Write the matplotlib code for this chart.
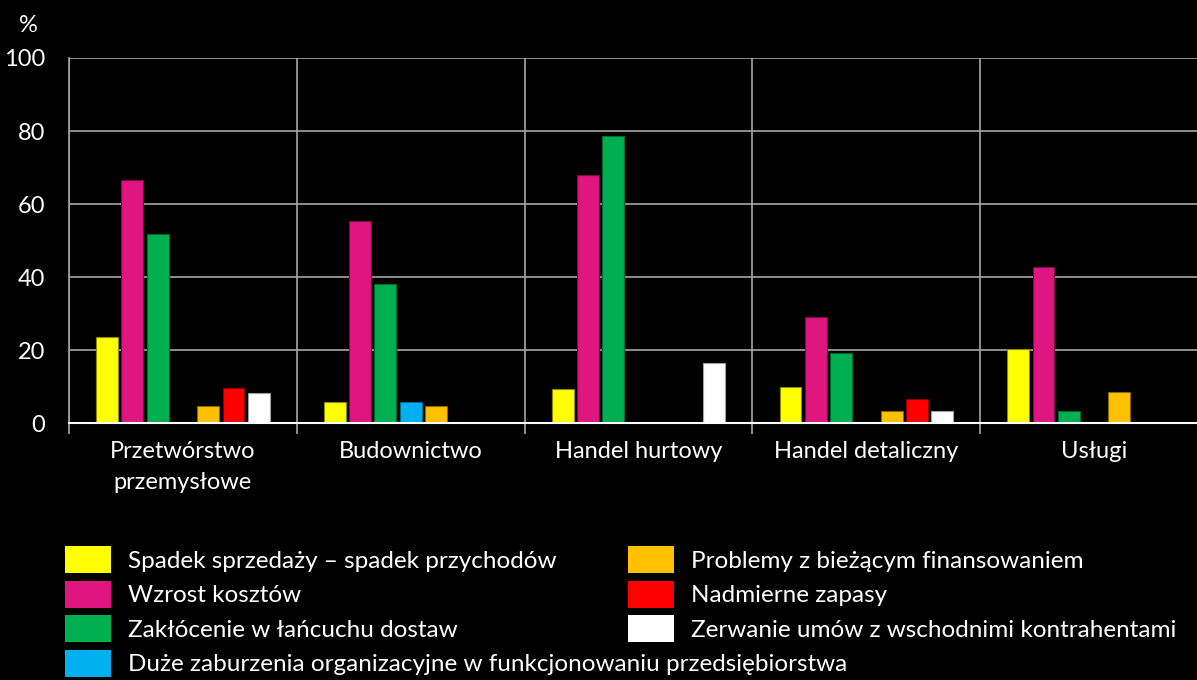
import matplotlib.pyplot as plt
from matplotlib.patches import Patch
import numpy as np

plt.rcParams['font.family'] = ['Lato', 'DejaVu Sans']

categories = ['Przetwórstwo\nprzemysłowe', 'Budownictwo', 'Handel hurtowy',
              'Handel detaliczny', 'Usługi']
series = ['Spadek sprzedaży – spadek przychodów',
          'Wzrost kosztów',
          'Zakłócenie w łańcuchu dostaw',
          'Duże zaburzenia organizacyjne w funkcjonowaniu przedsiębiorstwa',
          'Problemy z bieżącym finansowaniem',
          'Nadmierne zapasy',
          'Zerwanie umów z wschodnimi kontrahentami']
spadek = [23.7, 5.7, 9.4, 9.9, 20.4]
koszty = [66.5, 55.5, 68.0, 29.2, 42.7]
lancuch = [51.7, 38.1, 78.6, 19.2, 3.5]
zaburzenia = [0, 5.8, 0, 0, 0]
finansowanie = [4.8, 4.8, 0, 3.3, 8.5]
zapasy = [9.6, 0, 0, 6.6, 0]
umowy = [8.3, 0, 16.4, 3.3, 0]
values = [spadek, koszty, lancuch, zaburzenia, finansowanie, zapasy, umowy]
colors = ['#ffff00', '#df1580', '#00af50', '#00b0f0', '#ffc000', '#ff0000', '#ffffff']
edges = ['#8a8a00', '#7a0b46', '#006b31', '#006a90', '#8a6800', '#8a0000', '#a0a0a0']

fig = plt.figure(figsize=(11.97, 6.8), dpi=100, facecolor='black')
ax = fig.add_axes([69 / 1197, 256.7 / 680, 1139 / 1197, 365.3 / 680])
ax.set_facecolor('black')

x = np.arange(len(categories))
slot = 0.111
width = 0.096
handles = []
for i, (vals, c, ec) in enumerate(zip(values, colors, edges)):
    ax.bar(x + (i - 3) * slot, vals, width, color=c, edgecolor=ec, linewidth=0.8, zorder=3)
    handles.append(Patch(facecolor=c, edgecolor='none'))

ax.set_xlim(-0.5, len(categories) - 0.5)
ax.set_ylim(0, 100)
ax.set_yticks(range(0, 101, 20))
ax.tick_params(axis='y', length=0, pad=17, labelcolor='white', labelsize=17)
ax.set_xticks(x)
ax.set_xticklabels(categories, color='white', fontsize=17, linespacing=1.55)
ax.tick_params(axis='x', which='major', length=0, pad=13)
ax.set_xticks(np.arange(-0.5, len(categories)), minor=True)
ax.tick_params(axis='x', which='minor', length=8, width=1.2, color='#a6a6a6')
ax.grid(axis='y', color='#a6a6a6', linewidth=1.2, zorder=0)
ax.grid(axis='x', which='minor', color='#a6a6a6', linewidth=1.2, zorder=0)
for s in ['top', 'right']:
    ax.spines[s].set_visible(False)
ax.spines['left'].set_color('#a6a6a6')
ax.spines['left'].set_linewidth(1.2)
ax.spines['bottom'].set_color('white')
ax.spines['bottom'].set_linewidth(1.5)
ax.spines['bottom'].set_zorder(4)

fig.text(28 / 1197, 1 - 25 / 680, '%', color='white', fontsize=17, ha='center', va='center')

leg_kw = dict(frameon=False, fontsize=17.5, labelcolor='white', handlelength=1.9,
              handleheight=1.35, handletextpad=0.7, labelspacing=0.3, borderaxespad=0,
              borderpad=0)
fig.legend(handles[:4], series[:4], loc='upper left',
           bbox_to_anchor=(65 / 1197, 1 - 546 / 680), **leg_kw)
fig.legend(handles[4:], series[4:], loc='upper left',
           bbox_to_anchor=(628 / 1197, 1 - 546 / 680), **leg_kw)

fig.savefig('out.png', dpi=100, facecolor='black')
